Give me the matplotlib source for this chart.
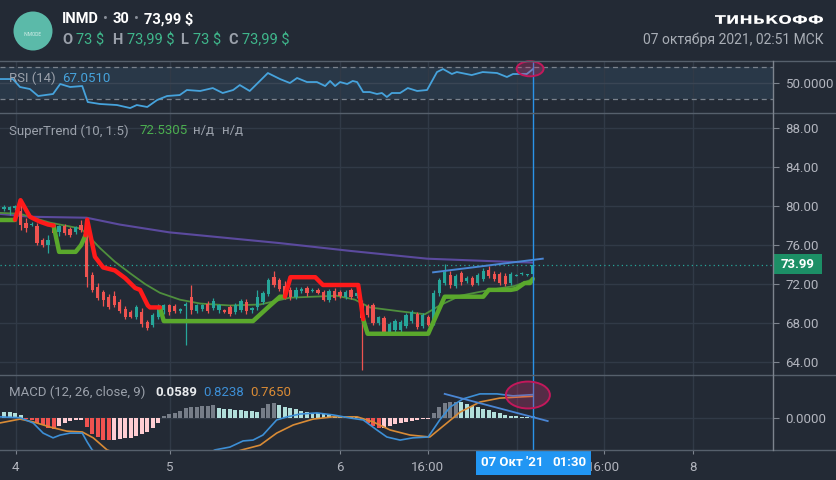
import matplotlib
matplotlib.use("Agg")
import matplotlib.pyplot as plt
from matplotlib.patches import Ellipse, Rectangle, Circle, PathPatch
from matplotlib.lines import Line2D
from matplotlib.textpath import TextPath
from matplotlib.font_manager import FontProperties
from matplotlib.transforms import Affine2D, IdentityTransform

plt.rcParams['font.family'] = ['Roboto', 'DejaVu Sans']

# --- data (30 min bars, INMD) ---
opens = [79.7, 79.6, 79.8, 79.5, 78.3, 78.1, 78.0, 76.5, 76.0, 78.0, 77.3, 77.9, 77.6, 77.3, 78.1,
         77.8, 72.9, 71.7, 71.2, 70.7, 70.8, 70.2, 69.4, 69.1, 68.6, 69.1, 68.1, 67.8, 68.6, 69.3,
         69.8, 69.7, 69.2, 69.7, 70.7, 69.2, 69.4, 70.0, 69.5, 69.3, 69.3, 69.6, 69.1, 69.3, 70.2,
         69.3, 69.6, 70.2, 71.0, 72.7, 72.4, 71.8, 71.4, 70.7, 71.3, 71.6, 71.3, 71.4, 71.2, 70.4,
         71.3, 71.2, 70.7, 71.4, 70.8, 70.0, 69.7, 69.9, 68.0, 68.5, 67.1, 67.3, 67.3, 67.7, 68.2,
         68.9, 67.7, 68.6, 68.0, 71.1, 72.1, 72.9, 71.8, 73.1, 72.3, 72.6, 72.1, 72.5, 73.4, 73.0,
         73.0, 72.8, 72.1, 72.8, 73.0, 72.9, 73.0]
highs = [80.1, 80.0, 80.1, 80.5, 78.8, 78.4, 78.3, 76.7, 77.0, 78.3, 78.1, 78.2, 77.8, 78.0, 78.6,
         78.8, 73.2, 72.1, 71.4, 71.0, 71.3, 70.5, 69.7, 69.3, 69.8, 69.5, 68.3, 69.0, 70.0, 70.0,
         70.0, 70.0, 69.5, 70.2, 71.9, 70.0, 70.0, 70.3, 70.6, 70.0, 69.4, 69.9, 70.1, 70.5, 70.5,
         69.6, 71.4, 71.3, 72.6, 73.3, 72.6, 72.3, 71.7, 71.7, 71.7, 71.8, 71.6, 71.6, 71.4, 71.5,
         71.6, 71.4, 71.4, 71.6, 71.3, 70.4, 70.0, 70.1, 68.7, 68.7, 68.1, 68.4, 68.3, 69.0, 69.3,
         69.1, 69.0, 68.8, 71.4, 72.6, 74.1, 73.3, 73.0, 73.3, 72.8, 72.8, 73.1, 73.6, 73.8, 73.3,
         73.2, 73.1, 73.2, 73.0, 73.2, 73.0, 73.99]
lows = [79.5, 79.1, 79.6, 77.5, 77.3, 78.0, 76.0, 75.8, 75.2, 77.1, 76.9, 77.0, 76.8, 77.1, 77.3,
        71.7, 71.2, 70.4, 69.7, 69.4, 69.6, 69.0, 68.4, 68.5, 68.4, 67.6, 67.3, 67.6, 68.4, 68.9,
        68.8, 69.0, 69.0, 65.7, 68.9, 69.0, 69.2, 69.0, 69.3, 69.0, 69.0, 68.7, 68.9, 69.1, 68.9,
        69.0, 69.3, 70.0, 70.8, 71.7, 71.3, 70.5, 70.4, 70.5, 71.1, 70.8, 71.2, 71.0, 70.3, 70.2,
        70.4, 70.6, 70.5, 70.5, 70.6, 63.2, 68.6, 67.8, 67.8, 66.8, 66.9, 67.1, 67.1, 67.5, 68.0,
        67.4, 67.5, 67.7, 67.8, 70.8, 71.9, 71.6, 71.6, 71.9, 72.1, 71.8, 71.9, 72.3, 72.6, 72.3,
        71.9, 71.8, 71.9, 72.8, 72.9, 72.8, 73.0]
closes = [79.9, 79.9, 80.0, 78.1, 77.7, 78.2, 76.2, 76.0, 76.5, 77.2, 77.9, 77.2, 77.0, 77.8, 77.5,
          72.7, 71.4, 70.6, 70.4, 69.6, 69.8, 69.2, 68.6, 68.6, 69.6, 67.9, 67.5, 68.8, 69.6, 69.8,
          69.1, 69.2, 69.4, 70.0, 69.3, 69.8, 69.8, 69.2, 70.3, 69.8, 69.1, 68.9, 69.8, 70.3, 69.2,
          69.5, 70.7, 71.1, 72.4, 71.9, 71.5, 70.6, 70.7, 71.4, 71.5, 71.1, 71.4, 71.1, 70.4, 71.3,
          70.6, 70.8, 71.2, 70.7, 71.1, 68.5, 68.8, 68.0, 68.6, 67.0, 67.9, 68.2, 68.1, 68.8, 69.1,
          67.6, 68.8, 67.8, 71.1, 72.4, 73.2, 71.9, 72.8, 72.2, 72.6, 71.9, 72.9, 73.3, 72.8, 72.5,
          72.1, 72.0, 73.0, 72.9, 73.1, 73.0, 73.99]

# SuperTrend (10, 1.5) pieces: bar index, level
st_red = [
    ([2.0, 3.0, 4.7, 6.5, 8.0, 9.0], [78.6, 80.6, 78.9, 78.4, 78.1, 78.0]),
    ([14.8, 15.1, 16.5, 18.0, 20.1, 22.0, 23.8, 24.7, 26.1, 26.5, 28.3],
     [77.0, 78.6, 74.8, 73.7, 73.4, 72.6, 71.6, 71.4, 69.8, 69.6, 69.6]),
    ([51.0, 52.0, 56.5, 57.9, 64.3, 65.2], [70.7, 72.7, 72.7, 71.9, 71.9, 68.4]),
]
st_green = [
    ([-0.8, 2.0], [78.6, 78.6]),
    ([9.0, 10.0, 13.0, 14.0, 14.8], [78.0, 75.3, 75.3, 76.0, 77.0]),
    ([28.3, 29.0, 45.2, 48.3, 50.1, 51.0], [69.6, 68.2, 68.2, 69.8, 70.7, 70.7]),
    ([65.2, 66.0, 77.0, 80.0, 87.0, 88.0, 92.0, 93.0, 94.5, 95.5, 96.0],
     [68.4, 66.9, 66.9, 70.7, 70.7, 71.4, 71.4, 71.5, 72.1, 72.1, 72.53]),
]

ma_fast_x = [-0.8, 2.9, 6.5, 8.3, 13.8, 14.7, 17.4, 20.1, 22.9, 25.6, 28.3, 31.9, 35.6, 41.0,
             46.5, 51.9, 60.4, 63.7, 66.4, 71.9, 76.4, 79.1, 82.8, 88.2, 92.7, 96.0]
ma_fast_y = [79.3, 79.2, 78.6, 78.3, 77.7, 77.3, 75.7, 74.3, 73.1, 72.0, 71.1, 70.4, 70.0, 69.8,
             69.9, 70.6, 70.8, 70.4, 69.6, 69.2, 68.9, 69.8, 70.8, 71.4, 71.8, 72.5]
ma_slow_x = [-0.8, 4.7, 15.0, 21.0, 30.0, 50.0, 62.8, 76.8, 90.6, 96.0]
ma_slow_y = [79.2, 78.9, 78.8, 78.1, 77.3, 76.2, 75.4, 74.6, 74.3, 74.2]
trend_x = [77.9, 97.8]
trend_y = [73.2, 74.6]
last_price = 73.99

rsi_x = [-0.8, 1.6, 2.9, 4.7, 6.2, 8.9, 10.2, 12.0, 14.2, 15.2, 17.4, 20.5, 22.9, 24.1, 26.0,
         27.8, 29.6, 31.9, 33.2, 35.6, 37.9, 39.7, 41.6, 42.8, 44.6, 47.9, 50.1, 51.9, 53.2,
         55.0, 56.8, 58.3, 59.2, 60.1, 61.0, 62.3, 63.3, 64.1, 65.2, 66.4, 67.7, 68.6, 69.5,
         70.4, 71.9, 73.3, 75.0, 76.8, 78.6, 79.7, 81.3, 82.2, 84.9, 86.9, 89.5, 91.3, 92.4,
         94.9, 96.0]
rsi_y = [54.9, 54.9, 45.1, 42.6, 34.0, 36.5, 48.8, 45.1, 46.3, 26.6, 24.2, 22.9, 19.2, 22.9, 20.5,
         29.1, 34.0, 35.2, 41.4, 40.2, 43.8, 37.7, 41.4, 47.5, 40.2, 62.3, 54.9, 50.0, 56.2,
         51.2, 51.2, 46.3, 52.5, 46.3, 51.2, 48.8, 52.5, 51.2, 38.9, 38.9, 36.5, 37.7, 32.8,
         37.7, 37.7, 43.8, 40.2, 41.4, 63.5, 67.2, 61.1, 63.5, 59.8, 63.5, 62.3, 57.4, 61.1,
         61.1, 67.05]

macd_hist = [0.22, 0.21, 0.18, 0.11, -0.04, -0.07, -0.18, -0.25, -0.36, -0.39, -0.29, -0.18, -0.11,
             -0.10, -0.07, -0.32, -0.57, -0.68, -0.79, -0.80, -0.78, -0.75, -0.74, -0.71, -0.64,
             -0.60, -0.50, -0.38, -0.20, 0.06, 0.12, 0.18, 0.25, 0.33, 0.37, 0.39, 0.42, 0.43, 0.44,
             0.33, 0.31, 0.30, 0.29, 0.27, 0.25, 0.24, 0.21, 0.33, 0.48, 0.51, 0.45, 0.39, 0.33,
             0.30, 0.25, 0.21, 0.18, 0.15, 0.12, 0.10, 0.07, 0.05, 0.04, 0.025, 0.01, -0.08, -0.20,
             -0.30, -0.38, -0.36, -0.30, -0.24, -0.18, -0.14, -0.12, -0.08, -0.06, -0.04, 0.15,
             0.37, 0.51, 0.55, 0.57, 0.55, 0.49, 0.43, 0.37, 0.32, 0.26, 0.20, 0.15, 0.11, 0.07,
             0.05, 0.04, 0.03, 0.0589]
macd_x = [-0.8, 2.9, 5.3, 7.1, 8.9, 10.2, 12.0, 14.2, 15.1, 16.0, 21.1, 26.5, 31.9, 38.3, 41.0,
          43.4, 45.2, 47.0, 49.5, 51.4, 53.7, 56.8, 59.7, 62.8, 65.2, 67.7, 69.5, 71.9, 74.2,
          77.0, 79.1, 81.0, 83.3, 86.4, 89.5, 92.4, 96.0]
macd_y = [0.03, 0.0, -0.19, -0.55, -0.72, -0.62, -0.55, -0.55, -0.87, -1.15, -1.9, -2.1, -1.8,
          -1.15, -1.05, -0.83, -0.80, -0.62, -0.08, 0.03, 0.13, 0.17, 0.10, -0.01, -0.08, -0.44,
          -0.69, -0.80, -0.72, -0.69, -0.08, 0.38, 0.67, 0.85, 0.85, 0.78, 0.8238]
signal_x = [-0.8, 2.9, 5.3, 8.3, 11.4, 14.2, 16.2, 18.7, 26.5, 35.6, 43.2, 46.5, 49.5, 52.5,
            56.1, 59.7, 64.1, 67.0, 70.1, 73.7, 77.3, 80.4, 82.8, 86.4, 90.0, 93.6, 96.0]
signal_y = [-0.19, -0.05, -0.15, -0.33, -0.48, -0.51, -0.72, -1.15, -1.7, -1.6, -1.15, -0.98,
            -0.55, -0.26, -0.05, 0.03, 0.03, -0.15, -0.44, -0.62, -0.69, -0.19, 0.20, 0.56,
            0.70, 0.74, 0.765]
macd_trend_x = [80.0, 98.7]
macd_trend_y = [0.85, -0.12]

day_pos = [2.1, 30.1, 61.0, 76.9, 93.1, 108.9, 125.0]
# the "7" label sits under the crosshair time tag in the screenshot
day_labels = ['4', '5', '6', '16:00', '', '16:00', '8']
price_ticks = [64, 68, 72, 76, 80, 84, 88]

# --- style ---
W, H = 837, 480
BG = '#232a35'
GRID = '#313a47'
SEP = '#56606c'
TXT = '#b2b5be'
LBL = '#9ba1ab'
UP = '#26a69a'
DOWN = '#ef5350'
CROSS = '#2a93e8'
XR = (-0.73, 139.6)


def fx(px):
    return px / W


def fy(py):
    return 1 - py / H


fig = plt.figure(figsize=(W / 100, H / 100), dpi=100, facecolor=BG)


def pane(top, bottom):
    ax = fig.add_axes([0, fy(bottom), fx(773), (bottom - top) / H])
    ax.set_facecolor(BG)
    for s in ax.spines.values():
        s.set_visible(False)
    ax.set_xlim(*XR)
    ax.yaxis.tick_right()
    ax.tick_params(axis='y', colors='#7d848e', labelcolor=TXT, labelsize=9.5,
                   length=4, width=0.8, pad=5)
    ax.tick_params(axis='x', bottom=False, labelbottom=False)
    for xp in day_pos:
        ax.axvline(xp, color=GRID, lw=1, zorder=0.5)
    ax.axvline(96, color=CROSS, lw=1, zorder=8)
    return ax


# RSI pane
ax_r = pane(61, 113)
ax_r.set_ylim(13.1, 77.1)
ax_r.axhspan(30, 70, color='#293848', zorder=0.2, lw=0)
ax_r.axhline(50, color='#3a4655', lw=1, zorder=0.6)
for lvl in (30, 70):
    ax_r.axhline(lvl, color='#7a828d', lw=0.9, ls=(0, (4, 3)), zorder=0.7)
ax_r.plot(rsi_x, rsi_y, color='#46a3dc', lw=1.3, zorder=3)
ax_r.set_yticks([50])
ax_r.set_yticklabels(['50.0000'])
ax_r.add_patch(Ellipse((95.5, 67.5), 4.9, 18.5, facecolor=(0.85, 0.2, 0.45, 0.28),
                       edgecolor='#c2185b', lw=1.4, zorder=9, clip_on=False))

# price pane
ax_p = pane(113, 375)
ax_p.set_ylim(62.67, 89.54)
for v in price_ticks:
    ax_p.axhline(v, color=GRID, lw=1, zorder=0.5)
ax_p.set_yticks(price_ticks)
ax_p.set_yticklabels([f'{v:.2f}' for v in price_ticks])
ax_p.axhline(last_price, color=UP, lw=0.9, ls=(0, (1, 2.5)), zorder=1)
ax_p.plot(ma_slow_x, ma_slow_y, color='#5b4a9e', lw=1.5, zorder=2)
ax_p.plot(ma_fast_x, ma_fast_y, color='#4f8f3d', lw=1.3, zorder=2)

for i, (o, h, l, c) in enumerate(zip(opens, highs, lows, closes)):
    col = UP if c >= o else DOWN
    ax_p.vlines(i, l, h, color=col, lw=0.9, zorder=3)
    ax_p.bar(i, max(abs(c - o), 0.07), bottom=min(o, c), width=0.6, color=col, lw=0, zorder=3)

for xs, ys in st_green:
    ax_p.plot(xs, ys, color='#5aa82c', lw=3.2, solid_capstyle='round', zorder=4)
for xs, ys in st_red:
    ax_p.plot(xs, ys, color='#ff1a1a', lw=3.2, solid_capstyle='round', zorder=4)
ax_p.plot(trend_x, trend_y, color='#4a86d4', lw=1.4, zorder=5)

# MACD pane
ax_m = pane(375, 450)
ax_m.set_ylim(-1.154, 1.525)
ax_m.axhline(0, color=GRID, lw=1, zorder=0.5)
hist_colors = []
prev = macd_hist[0] + 0.01
for hv in macd_hist:
    if hv >= 0:
        hist_colors.append('#767d88' if hv > prev else '#b2dfdb')
    else:
        hist_colors.append('#ffcdd2' if hv > prev else '#f05350')
    prev = hv
ax_m.bar(range(len(macd_hist)), macd_hist, width=0.72, color=hist_colors, lw=0, zorder=2)
ax_m.plot(signal_x, signal_y, color='#d98b35', lw=1.2, zorder=3)
ax_m.plot(macd_x, macd_y, color='#3d8fd6', lw=1.2, zorder=3)
ax_m.plot(macd_trend_x, macd_trend_y, color='#4a86d4', lw=1.3, zorder=4)
ax_m.add_patch(Ellipse((95.1, 0.81), 8.0, 0.96, facecolor=(0.85, 0.2, 0.45, 0.28),
                       edgecolor='#c2185b', lw=1.4, zorder=9))
ax_m.set_yticks([0])
ax_m.set_yticklabels(['0.0000'])
ax_m.set_xticks(day_pos)
ax_m.set_xticklabels(day_labels)
ax_m.tick_params(axis='x', bottom=True, labelbottom=True, colors='#7d848e', labelcolor=TXT,
                 labelsize=9.5, length=3, width=0.8, pad=5)

# separators
for yy in (61, 113, 375, 450):
    fig.add_artist(Line2D([0, 1], [fy(yy), fy(yy)], color=SEP, lw=1))
fig.add_artist(Line2D([fx(773), fx(773)], [fy(61), fy(450)], color='#7d848e', lw=1))

# last price tag
fig.add_artist(Rectangle((fx(773), fy(274)), fx(49), 20 / H, color='#1c8f66', lw=0))
fig.text(fx(797.5), fy(264), '73.99', color='white', fontsize=9.5, fontweight='bold',
         ha='center', va='center')

# crosshair time tag
fig.add_artist(Rectangle((fx(476), fy(475)), fx(115), 25 / H, color='#2196f3', lw=0))
fig.text(fx(481), fy(463), "07 Окт '21", color='white', fontsize=9.5, fontweight='bold', va='center')
fig.text(fx(552), fy(463), '01:30', color='white', fontsize=9.5, fontweight='bold', va='center')

# pane legends
fig.text(fx(9), fy(78), 'RSI (14)', color=LBL, fontsize=9.5, va='center')
fig.text(fx(62), fy(78), '67.0510', color='#46a3dc', fontsize=9.5, va='center')
fig.text(fx(9), fy(131), 'SuperTrend (10, 1.5)', color=LBL, fontsize=9.5, va='center')
fig.text(fx(139), fy(131), '72.5305', color='#4caf50', fontsize=9.5, va='center')
fig.text(fx(193), fy(131), 'н/д', color=LBL, fontsize=9.5, va='center')
fig.text(fx(222), fy(131), 'н/д', color=LBL, fontsize=9.5, va='center')
fig.text(fx(9), fy(392), 'MACD (12, 26, close, 9)', color=LBL, fontsize=9.5, va='center')
fig.text(fx(155), fy(392), '0.0589', color='#e8eaed', fontsize=9.5, fontweight='bold', va='center')
fig.text(fx(203), fy(392), '0.8238', color='#3d8fd6', fontsize=9.5, va='center')
fig.text(fx(250), fy(392), '0.7650', color='#d98b35', fontsize=9.5, va='center')

# header
fig.add_artist(Circle((33, H - 31), 19.5, color='#5bbaa9', lw=0, transform=IdentityTransform()))
fig.text(fx(33), fy(34), 'INMODE', color='#d5efe9', fontsize=3.5, ha='center', va='center')

fig.text(fx(62), fy(19), 'INMD', color='white', fontsize=10.5, fontweight='bold', va='center')
fig.text(fx(103), fy(19), '•', color='#8a909a', fontsize=10.5, va='center')
fig.text(fx(113), fy(19), '30', color='white', fontsize=10.5, fontweight='bold', va='center')
fig.text(fx(134), fy(19), '•', color='#8a909a', fontsize=10.5, va='center')
fig.text(fx(144), fy(19), '73,99 $', color='white', fontsize=10.5, fontweight='bold', va='center')

ohlc_row = [('O', 62), ('73 $', 76), ('H', 112), ('73,99 $', 127),
            ('L', 180), ('73 $', 193), ('C', 228), ('73,99 $', 242)]
for k, (t, xp) in enumerate(ohlc_row):
    if k % 2 == 0:
        fig.text(fx(xp), fy(40), t, color='#9aa0aa', fontsize=10.5, fontweight='bold', va='center')
    else:
        fig.text(fx(xp), fy(40), t, color='#3fb68b', fontsize=10.5, va='center')

fig.text(fx(824), fy(40), '07 октября 2021, 02:51 МСК', color='#a9aeb6', fontsize=10,
         ha='right', va='center')

# wide bold broker logo
tp = TextPath((0, 0), 'ТИНЬКОФФ', size=20,
              prop=FontProperties(family='DejaVu Sans', weight='bold'))
bb = tp.get_extents()
tr = Affine2D().translate(-bb.x0, -bb.y0).scale(108 / bb.width, 9 / bb.height).translate(715, H - 24)
fig.add_artist(PathPatch(tr.transform_path(tp), color='white', lw=0, transform=IdentityTransform()))

fig.savefig('out.png', dpi=100, facecolor=BG)
